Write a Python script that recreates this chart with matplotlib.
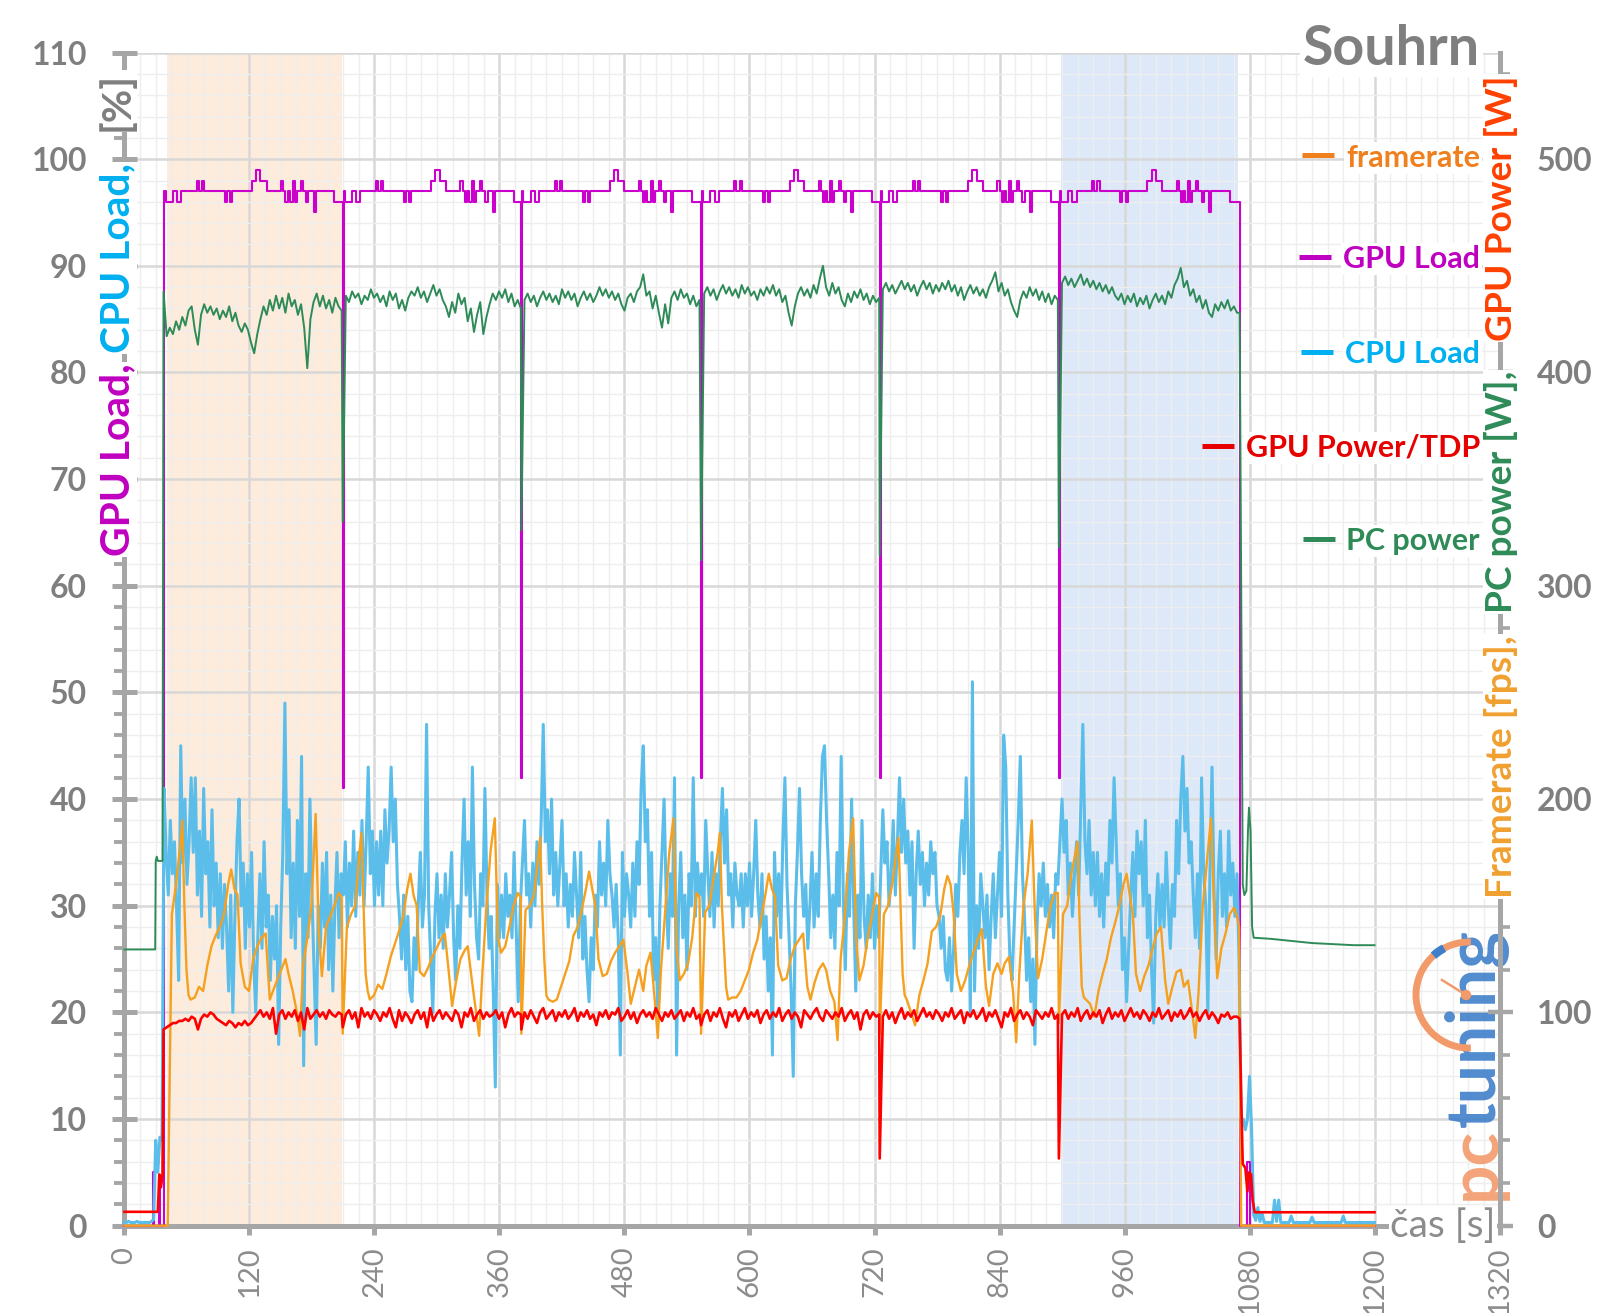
import numpy as np
import matplotlib
matplotlib.use("Agg")
import matplotlib.pyplot as plt
from matplotlib.transforms import IdentityTransform
from matplotlib.patches import Arc, Circle
from matplotlib.lines import Line2D

plt.rcParams["font.family"] = ["Lato", "DejaVu Sans"]

W, H = 1600, 1313
GRAY = "#7f7f7f"
SPINE = "#a6a6a6"

# ---------------- data ----------------
# the benchmark loop repeats six times, each loop ~172 s long
seg_start = [37.5, 209.5, 381.0, 553.5, 725.0, 897.0]

# GPU load [%] - step pattern of one loop (offset s -> value), identical in every loop
gpu_off = [0, 2, 9, 13, 17, 32, 34, 37, 39, 59, 61, 64, 66, 85, 89, 93, 99, 113, 115,
           117, 119, 121, 124, 126, 128, 132, 134, 137, 139, 144, 146, 164, 171]
gpu_loop = [97, 96, 97, 96, 97, 98, 97, 98, 97, 96, 97, 96, 97, 98, 99, 98, 97, 98, 97,
            96, 97, 96, 98, 96, 97, 98, 97, 96, 97, 95, 97, 96, 96]
gpu_dip = [97, 41, 42, 42, 42, 42]          # short drop at the start of each loop
gpu_pre_t = [0, 27, 28.5, 33, 34.5]
gpu_pre = [0, 5, 0, 4.5, 0]
gpu_post_t = [1070.5, 1078, 1080.5, 1200]
gpu_post = [0, 6, 0, 0]

# CPU load [%], 2 s samples
cpu_pre = [0.3, 0.3, 0.4, 0.3, 0.3, 0.3, 0.4, 0.3, 0.3, 0.3, 0.3, 0.3, 0.3, 0.4, 0.6, 8.0, 5.0, 8.3]
cpu_run = [
    8, 41, 35, 31, 38, 33, 36, 30, 23, 45, 34, 40, 32, 36, 42, 35, 42, 31, 37, 29, 41, 33, 36, 28, 39,
    30, 34, 27, 33, 26, 32, 28, 22, 31, 20, 29, 36, 40, 30, 34, 26, 33, 28, 35, 25, 20, 27, 33, 26, 36,
    28, 31, 23, 29, 25, 30, 17, 28, 35, 49, 33, 39, 27, 34, 26, 38, 29, 44, 15, 33, 27, 40, 31, 24, 17,
    30, 26, 34, 28, 35, 24, 31, 22, 30, 35, 27, 33, 31, 36, 28, 34, 30, 37, 29, 35, 31, 38, 30, 36, 43,
    33, 37, 30, 36, 31, 37, 30, 39, 34, 37, 43, 36, 40, 32, 29, 25, 31, 24, 29, 22, 21, 27, 24, 30, 35,
    28, 31, 47, 30, 25, 20, 29, 33, 27, 31, 26, 33, 28, 31, 35, 27, 23, 30, 26, 34, 40, 31, 36, 29, 43,
    32, 27, 25, 33, 30, 41, 31, 26, 29, 22, 13, 32, 27, 31, 27, 33, 29, 31, 27, 35, 28, 21, 30, 34, 38,
    31, 33, 28, 34, 30, 36, 32, 38, 47, 36, 39, 33, 40, 31, 35, 30, 34, 38, 30, 33, 28, 32, 29, 35, 31,
    27, 35, 25, 29, 24, 21, 27, 24, 31, 28, 36, 31, 34, 30, 38, 33, 31, 28, 32, 27, 16, 35, 29, 33, 31,
    28, 34, 29, 36, 32, 41, 45, 36, 39, 29, 35, 23, 27, 20, 30, 35, 40, 31, 26, 33, 29, 42, 16, 30, 35,
    27, 31, 24, 33, 30, 42, 29, 34, 31, 33, 29, 38, 33, 29, 35, 28, 33, 30, 36, 41, 34, 39, 31, 33, 28,
    34, 31, 30, 33, 28, 33, 30, 34, 29, 33, 38, 31, 28, 33, 25, 29, 22, 27, 16, 35, 29, 33, 27, 36, 42,
    32, 27, 22, 14, 30, 35, 41, 33, 29, 32, 26, 30, 35, 28, 33, 29, 38, 44, 45, 38, 33, 27, 31, 26, 35,
    30, 44, 31, 24, 33, 29, 40, 30, 22, 31, 27, 38, 29, 26, 31, 27, 33, 26, 30, 27, 33, 39, 34, 36, 30,
    33, 38, 31, 36, 42, 35, 40, 34, 37, 31, 36, 26, 33, 37, 32, 35, 30, 34, 31, 36, 33, 35, 30, 29, 26,
    29, 24, 23, 27, 22, 26, 32, 29, 35, 38, 33, 42, 35, 20, 51, 22, 30, 26, 33, 30, 27, 31, 24, 29, 33,
    27, 31, 35, 29, 46, 43, 31, 25, 23, 28, 33, 38, 44, 33, 29, 23, 27, 21, 25, 17, 28, 33, 30, 34, 29,
    32, 28, 31, 27, 33, 32, 36, 40, 35, 38, 31, 34, 29, 33, 36, 31, 39, 47, 36, 33, 38, 31, 35, 30, 35,
    29, 33, 28, 34, 31, 38, 34, 42, 36, 30, 33, 24, 27, 21, 26, 31, 35, 29, 37, 33, 36, 30, 38, 27, 31,
    24, 19, 29, 33, 28, 32, 28, 35, 30, 26, 32, 29, 38, 33, 40, 44, 37, 41, 34, 36, 31, 27, 33, 26, 42,
    33, 30, 20, 33, 43, 31, 25, 33, 37, 29, 33, 28, 37, 31, 34, 29, 33, 25, 10]
cpu_post = [
    10, 9, 10, 14, 9, 1.0, 0.5, 1.7, 0.4, 1.2,
    0.3, 0.3, 0.3, 0.3, 0.3, 2.4, 0.4, 2.4, 0.3, 0.3,
    0.3, 0.3, 0.3, 0.9, 0.3, 0.3, 0.3, 0.3, 0.3, 0.3,
    0.3, 0.3, 0.3, 0.8, 0.3, 0.3, 0.3, 0.3, 0.3, 0.3,
    0.3, 0.3, 0.3, 0.3, 0.3, 0.3, 0.3, 0.3, 0.9, 0.3,
    0.3, 0.3, 0.3, 0.3, 0.3, 0.3, 0.3, 0.3, 0.3, 0.3,
    0.3, 0.3, 0.3, 0.3]

# framerate [fps], sampled at these offsets inside every loop
fps_off = [0, 4, 8, 12, 16, 18, 20, 22, 24, 26, 30, 34, 38, 42, 46, 50, 54, 58, 62, 65, 68, 71,
           74, 78, 82, 86, 90, 94, 98, 102, 105, 109, 113, 117, 120, 124, 128, 131, 134, 138,
           142, 146, 149, 152, 156, 160, 164, 168, 171]
fps_loops = [
    [0, 0, 146, 160, 178, 190, 150, 120, 108, 106, 107, 112, 110, 122, 131, 136, 140, 146, 160, 167,
     158, 155, 123, 112, 110, 125, 131, 135, 137, 106, 110, 115, 120, 125, 118, 110, 100, 89, 122, 135,
     150, 193, 138, 117, 140, 145, 150, 156, 154],
    [90, 140, 146, 150, 175, 184, 150, 118, 110, 106, 108, 113, 111, 118, 126, 132, 138, 145, 158, 165,
     155, 150, 119, 117, 121, 126, 130, 134, 137, 118, 103, 115, 125, 129, 131, 115, 100, 89, 118, 150,
     176, 191, 135, 128, 131, 140, 150, 156, 154],
    [90, 148, 150, 155, 172, 182, 150, 125, 108, 106, 105, 106, 112, 118, 124, 136, 140, 148, 158, 166,
     158, 150, 125, 117, 118, 124, 128, 131, 134, 118, 104, 112, 120, 110, 122, 128, 106, 88, 120, 147,
     175, 191, 130, 115, 118, 123, 135, 156, 154],
    [90, 147, 150, 163, 175, 184, 150, 131, 112, 106, 107, 107, 110, 115, 120, 128, 134, 145, 156, 165,
     158, 154, 122, 115, 116, 125, 131, 134, 137, 112, 106, 114, 120, 123, 120, 110, 105, 87, 125, 145,
     175, 191, 134, 115, 122, 135, 145, 156, 154],
    [90, 146, 150, 160, 175, 182, 150, 118, 108, 106, 100, 94, 108, 115, 123, 138, 140, 145, 158, 164,
     160, 146, 118, 110, 115, 122, 128, 134, 139, 112, 103, 118, 123, 118, 123, 126, 110, 86, 118, 150,
     165, 190, 145, 116, 125, 138, 150, 156, 156],
    [95, 146, 150, 165, 175, 180, 140, 112, 107, 106, 104, 98, 110, 118, 125, 135, 142, 150, 160, 165,
     155, 146, 118, 110, 117, 122, 130, 137, 140, 115, 104, 112, 119, 120, 112, 115, 100, 88, 109, 149,
     170, 191, 150, 116, 130, 137, 146, 149, 145]]
fps_pre_t = [0.0]
fps_pre = [0]
fps_post_t = [1070.0, 1072.0, 1200.0]
fps_post = [140, 0, 0]

# PC power [W] and GPU power [W], 3 s samples inside every loop
loop_off3 = list(range(0, 172, 3))
pc_loops = [
    [438, 417, 421, 418, 424, 420, 426, 422, 429, 431, 420, 413, 427, 432, 428, 431, 427, 430, 425, 429,
     426, 431, 424, 428, 422, 419, 423, 420, 414, 409, 418, 425, 431, 427, 434, 429, 436, 430, 435, 428,
     437, 431, 434, 427, 432, 421, 402, 425, 433, 437, 431, 436, 430, 434, 428, 435, 431, 429],
    [330, 436, 433, 438, 435, 437, 432, 436, 434, 439, 435, 437, 433, 436, 431, 438, 434, 437, 430, 434,
     429, 435, 438, 436, 440, 435, 438, 433, 437, 441, 436, 439, 434, 431, 426, 433, 428, 437, 432, 435,
     424, 430, 419, 427, 433, 418, 426, 432, 437, 434, 438, 435, 439, 433, 437, 431, 434, 430],
    [326, 434, 437, 433, 436, 431, 435, 438, 434, 437, 433, 436, 432, 439, 435, 438, 434, 437, 431, 435,
     438, 434, 437, 433, 436, 440, 436, 439, 435, 438, 434, 437, 432, 429, 435, 437, 433, 438, 440, 446,
     436, 438, 430, 436, 428, 421, 432, 423, 435, 438, 434, 439, 435, 437, 432, 436, 431, 434],
    [312, 437, 440, 436, 439, 434, 438, 441, 437, 440, 436, 439, 435, 441, 437, 440, 436, 438, 434, 439,
     436, 440, 437, 441, 436, 439, 433, 436, 428, 422, 431, 437, 440, 436, 439, 435, 441, 437, 444, 450,
     440, 436, 442, 437, 440, 434, 431, 437, 433, 438, 435, 439, 434, 437, 432, 436, 433, 435],
    [314, 439, 442, 438, 441, 437, 440, 443, 439, 442, 438, 441, 436, 440, 443, 439, 442, 437, 441, 438,
     442, 439, 443, 438, 441, 436, 440, 434, 438, 441, 437, 440, 436, 439, 435, 440, 443, 447, 438, 442,
     436, 439, 433, 429, 426, 434, 438, 435, 440, 436, 439, 434, 438, 433, 437, 432, 436, 434],
    [318, 442, 445, 441, 444, 440, 443, 446, 441, 444, 440, 443, 439, 442, 438, 441, 437, 440, 436, 434,
     437, 432, 436, 433, 437, 431, 435, 432, 436, 430, 434, 437, 433, 436, 432, 438, 435, 441, 444, 449,
     440, 443, 436, 439, 433, 436, 430, 434, 428, 426, 432, 429, 433, 430, 434, 429, 431, 428]]
pc_pre_t = [0, 29.5, 30, 31, 32, 36.5]
pc_pre = [129.5, 129.5, 171, 173, 171, 171]
pc_post_t = [1070.5, 1072, 1073.5, 1075, 1077, 1078.5, 1079.5, 1081, 1082.5, 1084,
             1100, 1120, 1140, 1160, 1180, 1200]
pc_post = [428, 300, 160, 155, 157, 185, 196, 185, 140, 135, 134.5, 133.5, 132.5, 132, 131.5, 131.5]

gp_loops = [
    [92, 93, 94, 95, 95, 96, 96, 97, 96, 98, 97, 92, 97, 99, 98, 100, 99, 97, 96, 95,
     94, 96, 95, 93, 95, 94, 96, 94, 95, 97, 99, 101, 98, 100, 97, 102, 90, 99, 101, 97,
     100, 98, 101, 96, 100, 92, 102, 97, 99, 101, 98, 100, 97, 101, 99, 98, 100, 99],
    [93, 99, 101, 97, 100, 93, 102, 98, 100, 97, 101, 99, 96, 100, 98, 102, 97, 93, 101, 96,
     100, 98, 95, 99, 101, 97, 100, 93, 102, 96, 99, 101, 97, 100, 98, 96, 101, 99, 93, 100,
     98, 102, 96, 99, 101, 97, 100, 98, 99, 101, 97, 100, 93, 99, 102, 98, 100, 99],
    [92, 100, 97, 101, 98, 95, 100, 102, 97, 99, 101, 96, 100, 98, 101, 97, 99, 102, 96, 100,
     98, 101, 97, 99, 94, 100, 98, 101, 97, 100, 99, 102, 96, 98, 101, 97, 100, 95, 99, 101,
     98, 100, 97, 102, 99, 96, 100, 98, 101, 97, 99, 101, 96, 100, 98, 102, 97, 99],
    [94, 99, 101, 96, 100, 98, 102, 97, 93, 100, 98, 101, 96, 99, 102, 97, 100, 98, 101, 95,
     99, 101, 97, 100, 98, 102, 96, 99, 101, 97, 100, 98, 93, 101, 99, 97, 100, 102, 98, 96,
     101, 99, 97, 100, 98, 102, 96, 99, 101, 97, 100, 92, 99, 101, 97, 100, 98, 99],
    [31.5, 98, 101, 97, 100, 95, 99, 102, 97, 100, 98, 101, 96, 99, 102, 98, 100, 97, 101, 99,
     96, 100, 98, 102, 97, 99, 101, 95, 100, 98, 101, 97, 99, 102, 96, 100, 98, 101, 97, 93,
     100, 98, 102, 96, 99, 101, 97, 100, 98, 94, 101, 99, 97, 100, 98, 102, 97, 99],
    [31.5, 99, 101, 97, 100, 98, 102, 96, 99, 101, 97, 100, 98, 101, 95, 99, 102, 97, 100, 98,
     101, 96, 99, 102, 98, 100, 97, 101, 99, 96, 100, 98, 102, 97, 99, 101, 96, 100, 98, 101,
     97, 99, 102, 98, 100, 96, 99, 101, 97, 100, 98, 95, 99, 98, 100, 97, 98, 98]]
gp_pre_t = [0, 32, 33.5, 35, 36.5]
gp_pre = [6.5, 6.5, 24, 18, 24]
gp_post_t = [1070.5, 1072, 1073.5, 1076, 1078, 1079.5, 1081.5, 1083, 1085, 1200]
gp_post = [97, 60, 29, 27, 16, 25, 24, 12, 6.3, 6.3]

# shaded parts of the run [s]
band_orange = (41, 209)
band_blue = (899, 1069)

leg_labels = ["framerate", "GPU Load", "CPU Load", "GPU Power/TDP", "PC power"]
leg_colors = ["#f07f1e", "#c000c0", "#00b0f0", "#e60000", "#2e8b57"]

x_ticks = list(range(0, 1321, 120))
left_ticks = list(range(0, 111, 10))
right_ticks = list(range(0, 501, 100))


# ---------------- assemble the series ----------------
def from_loops(offsets, loops):
    t, v = [], []
    for s0, vals in zip(seg_start, loops):
        n = min(len(offsets), len(vals))
        t.extend(s0 + o for o in offsets[:n])
        v.extend(vals[:n])
    return t, v


gpu_t, gpu_v = list(gpu_pre_t), list(gpu_pre)
for s0, d in zip(seg_start, gpu_dip):
    gpu_t += [s0, s0 + 1] + [s0 + o for o in gpu_off[1:]]
    gpu_v += [d, gpu_loop[0]] + gpu_loop[1:]
gpu_t += gpu_post_t
gpu_v += gpu_post

cpu_t = np.concatenate([2.0 * np.arange(len(cpu_pre)),
                        36 + 2.0 * np.arange(len(cpu_run)),
                        1074 + 2.0 * np.arange(len(cpu_post))])
cpu_v = np.concatenate([cpu_pre, cpu_run, cpu_post])

t, v = from_loops(fps_off, fps_loops)
fps_t, fps_v = fps_pre_t + t + fps_post_t, fps_pre + v + fps_post
t, v = from_loops(loop_off3, pc_loops)
pc_t, pc_v = pc_pre_t + t + pc_post_t, pc_pre + v + pc_post
t, v = from_loops(loop_off3, gp_loops)
gp_t, gp_v = gp_pre_t + t + gp_post_t, gp_pre + v + gp_post

# ---------------- figure ----------------
fig = plt.figure(figsize=(16, 13.13), dpi=100)
ax = fig.add_axes([0.0778, 0.0665, 0.8594, 0.8935])
ax2 = ax.twinx()

ax.axvspan(*band_orange, color="#fdebdc", lw=0, zorder=0)
ax.axvspan(*band_blue, color="#dde9f8", lw=0, zorder=0)

ax.set_axisbelow(True)
ax.set_xticks(x_ticks)
ax.set_xticklabels([str(x) for x in x_ticks])
ax.set_xticks(np.arange(0, 1321, 15), minor=True)
ax.set_yticks(left_ticks)
ax.set_yticklabels([str(y) for y in left_ticks], fontweight="bold")
ax.set_yticks(np.arange(0, 111, 2), minor=True)
ax.grid(which="major", color="#d8d8d8", lw=1.8)
ax.grid(which="minor", color="#eeeeee", lw=1.0)

ax.plot(gpu_t, gpu_v, color="#cc00cc", lw=1.5, drawstyle="steps-post", zorder=3, clip_on=False)
ax.plot(cpu_t, cpu_v, color="#5bbde9", lw=2.2, zorder=4, clip_on=False)
ax2.plot(pc_t, pc_v, color="#2e8b57", lw=1.4, zorder=2, clip_on=False)
ax2.plot(fps_t, fps_v, color="#f5a01e", lw=1.7, zorder=3, clip_on=False)
ax2.plot(gp_t, gp_v, color="#ff0000", lw=1.9, zorder=4, clip_on=False)

ax2.set_yticks(right_ticks)
ax2.set_yticklabels([str(y) for y in right_ticks], fontweight="bold")
ax2.set_yticks(np.arange(0, 551, 20), minor=True)

for name in ("top", "right"):
    ax.spines[name].set_visible(False)
for name in ("top", "left", "bottom"):
    ax2.spines[name].set_visible(False)
for sp in (ax.spines["left"], ax.spines["bottom"], ax2.spines["right"]):
    sp.set_color(SPINE)
    sp.set_linewidth(3.6)
ax.spines["bottom"].set_bounds(0, 1212)

ax.tick_params(axis="y", which="major", direction="inout", length=18, width=3.6, color=SPINE,
               labelsize=23, labelcolor=GRAY, pad=18)
ax.tick_params(axis="y", which="minor", direction="out", length=7, width=2.8, color=SPINE)
ax.tick_params(axis="x", which="major", direction="out", length=6.5, width=3.6, color=SPINE,
               labelsize=21, labelcolor="#8c8c8c", labelrotation=90, pad=8.6)
ax.tick_params(axis="x", which="minor", length=0)
ax2.tick_params(axis="y", which="major", direction="inout", length=18, width=3.2, color=SPINE,
                labelsize=23, labelcolor=GRAY, pad=18)
ax2.tick_params(axis="y", which="minor", direction="out", length=7, width=2.6, color=SPINE)

ax.set_xlim(0, 1320)
ax.set_ylim(0, 110)
ax2.set_ylim(0, 550)

renderer = fig.canvas.get_renderer()
ID = IdentityTransform()


def stack_rotated(pieces, gaps, x_base, y_bottom, size):
    y = H - y_bottom
    arts = []
    for i, (s, c) in enumerate(pieces):
        t = fig.text(x_base, y, s, transform=ID, rotation=90, rotation_mode="anchor",
                     ha="left", va="baseline", fontsize=size, fontweight="bold", color=c,
                     bbox=dict(fc="white", ec="none", pad=0.8), zorder=6)
        arts.append(t)
        if i < len(gaps):
            y = t.get_window_extent(renderer).y1 + gaps[i] * size * 100 / 72
    return arts


def fit_rotated(pieces, gaps, x_base, y_bottom, y_top, size0=26):
    arts = stack_rotated(pieces, gaps, x_base, y_bottom, size0)
    length = arts[-1].get_window_extent(renderer).y1 - (H - y_bottom)
    for a in arts:
        a.remove()
    return stack_rotated(pieces, gaps, x_base, y_bottom, size0 * (y_bottom - y_top) / length)


fit_rotated([("GPU Load,", "#c000c0"), ("CPU Load,", "#00b0f0"), ("[%]", GRAY)],
            [0.25, 0.8], 129, 556, 71)
fit_rotated([("Framerate [fps],", "#f0a030"), ("PC power [W],", "#2e8b57"),
             ("GPU Power [W]", "#ff4000")],
            [0.6, 0.8], 1512, 898, 75)

# legend
for lab, col, yb in zip(leg_labels, leg_colors, [166.7, 268, 363, 457, 550]):
    t = fig.text(1480, H - yb, lab, transform=ID, ha="right", va="baseline", fontsize=22,
                 fontweight="bold", color=col, bbox=dict(fc="white", ec="none", pad=1.5), zorder=6)
    x1 = t.get_window_extent(renderer).x0 - 12
    fig.add_artist(Line2D([x1 - 32, x1], [H - yb + 11.5] * 2, transform=ID, color=col, lw=3.6,
                          solid_capstyle="butt", zorder=6))

fig.text(1480, H - 65, "Souhrn", transform=ID, ha="right", va="baseline", fontsize=40,
         fontweight="bold", color=GRAY, bbox=dict(fc="white", ec="none", pad=2), zorder=6)
fig.text(1443, H - 1226, "čas [s]", transform=ID, ha="center", va="center", fontsize=28,
         color="#8c8c8c", bbox=dict(fc="white", ec="none", pad=1), zorder=6)

# pctuning watermark
t_pc = ax.text(1495, H - 1200, "pc", transform=ID, rotation=90, rotation_mode="anchor",
               ha="left", va="baseline", fontsize=50, fontweight="bold", color="#f39a6b",
               alpha=0.9, clip_on=False, zorder=1)
ax.text(1495, t_pc.get_window_extent(renderer).y1, "tuning", transform=ID, rotation=90,
        rotation_mode="anchor", ha="left", va="baseline", fontsize=50, fontweight="bold",
        color="#3f7fca", alpha=0.9, clip_on=False, zorder=1)
cx, cy = 1469, H - 995
ax.add_patch(Arc((cx, cy), 106, 106, theta1=88, theta2=272, transform=ID, lw=5, color="#f39a6b",
                 clip_on=False, zorder=1))
ax.add_patch(Arc((cx, cy), 106, 106, theta1=118, theta2=132, transform=ID, lw=6, color="#3f7fca",
                 clip_on=False, zorder=1))
ax.add_line(Line2D([cx - 3, cx - 27], [cy, cy + 15], transform=ID, color="#f39a6b", lw=1.8,
                   clip_on=False, zorder=1))
ax.add_patch(Circle((cx - 3, cy), 4.5, transform=ID, color="#f39a6b", clip_on=False, zorder=1))

ax.set_xlim(0, 1320)
ax.set_ylim(0, 110)
ax2.set_ylim(0, 550)

fig.savefig("out.png", dpi=100)
